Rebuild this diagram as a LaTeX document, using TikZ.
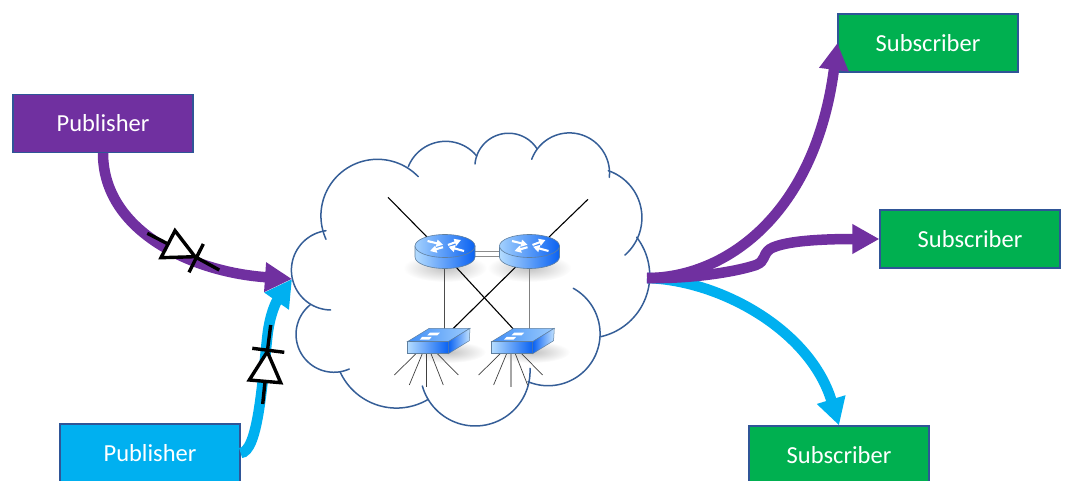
\documentclass[tikz,border=0pt]{standalone}
\usepackage{fontspec}
\setmainfont{Carlito}
\usetikzlibrary{arrows.meta}
\definecolor{ppurple}{HTML}{7030A0}
\definecolor{pblue}{HTML}{00B0F0}
\definecolor{pgreen}{HTML}{00B050}
\definecolor{edgeblue}{HTML}{2F5597}
\definecolor{cloudblue}{HTML}{355E97}
\definecolor{icolight}{HTML}{B4DCFF}
\definecolor{icodeep}{HTML}{0A62F2}
\definecolor{icomid}{HTML}{3F8DF6}
\definecolor{icoedge}{HTML}{5F7F9F}
\tikzset{
  msgbox/.style={draw=edgeblue,line width=1.2pt,minimum width=180pt,minimum height=58pt,inner sep=0pt,text=white,font=\fontsize{24.5}{28}\selectfont},
  flowpurple/.style={draw=ppurple,line width=10.5pt,-{Triangle[length=27pt,width=28pt]}},
  flowblue/.style={draw=pblue,line width=10.5pt,-{Triangle[length=27pt,width=28pt]}},
  cloudarc/.style={draw=cloudblue,line width=1.5pt,line cap=round},
  diode/.style={draw=black,line width=3.4pt,line join=miter},
  uplink/.style={draw=black,line width=1.1pt},
  fanline/.style={draw=black!75,line width=.7pt},
  softshadow/.style={inner color=black!24,outer color=white,draw=none},
  iconarrow/.style={white,line width=2.1pt,-{Triangle[length=6.5pt,width=7pt]}},
}
% circular lobe through three points (start, middle, end)
\newcommand{\lobe}[6]{%
  \pgfmathsetmacro{\bx}{(#3-#1)/100}\pgfmathsetmacro{\by}{(#4-#2)/100}%
  \pgfmathsetmacro{\cx}{(#5-#1)/100}\pgfmathsetmacro{\cy}{(#6-#2)/100}%
  \pgfmathsetmacro{\dd}{2*(\bx*\cy-\by*\cx)}%
  \pgfmathsetmacro{\bb}{\bx*\bx+\by*\by}\pgfmathsetmacro{\ccc}{\cx*\cx+\cy*\cy}%
  \pgfmathsetmacro{\ux}{(\cy*\bb-\by*\ccc)/\dd}\pgfmathsetmacro{\uy}{(\bx*\ccc-\cx*\bb)/\dd}%
  \pgfmathsetmacro{\rr}{100*sqrt(\ux*\ux+\uy*\uy)}%
  \pgfmathsetmacro{\ox}{#1+100*\ux}\pgfmathsetmacro{\oy}{#2+100*\uy}%
  \pgfmathsetmacro{\aa}{atan2(#2-\oy,#1-\ox)}\pgfmathsetmacro{\ae}{atan2(#6-\oy,#5-\ox)}%
  \pgfmathsetmacro{\af}{\dd>0 ? (\ae<\aa ? \ae+360 : \ae) : (\ae>\aa ? \ae-360 : \ae)}%
  \draw[cloudarc] plot[smooth,domain=\aa:\af,samples=48,variable=\t] ({\ox+\rr*cos(\t)},{\oy+\rr*sin(\t)});}
\newcommand{\routericon}[1]{%
  \begin{scope}[shift={(#1,246)}]
    \path[left color=icolight,right color=icodeep,draw=icoedge,line width=.6pt]
      (-30,0) -- (-30,11) .. controls (-30,17.3) and (-16.6,22.5) .. (0,22.5)
      .. controls (16.6,22.5) and (30,17.3) .. (30,11) -- (30,0) -- cycle;
    \path[left color=icolight!85!icomid,right color=icodeep,draw=icoedge,line width=.6pt]
      (0,0) ellipse [x radius=30,y radius=11.5];
    \draw[iconarrow] (-17.5,-5) -- (-2,-1.2);
    \draw[iconarrow] (-2,1.2) -- (-15,5);
    \draw[iconarrow] (3,-1) -- (16,-6);
    \draw[iconarrow] (19,5) -- (3.5,0.8);
  \end{scope}}
\newcommand{\switchicon}[2]{%
  \begin{scope}[shift={(#1,341.7)}]
    \draw[fanline] (8.7,12) -- (-13,33.3);
    \draw[fanline] (15,12) -- (2,43.3);
    \draw[#2] (19.4,12) -- (19.4,45.6);
    \draw[fanline] (23.7,12) -- (36,43.3);
    \draw[fanline] (30,12) -- (51,33.3);
    \path[left color=icomid,right color=icolight!80!icomid,draw=icoedge,line width=.5pt]
      (0,0) -- (22,-13.4) -- (62.7,-13.4) -- (41,0) -- cycle;
    \path[left color=icolight,right color=icodeep,draw=icoedge,line width=.5pt]
      (0,0) rectangle (41,12);
    \path[left color=icodeep,right color=icolight!80!white,draw=icoedge,line width=.5pt]
      (41,0) -- (62.7,-13.4) -- (62,-1) -- (41,12) -- cycle;
    \fill[white] (20,-6.4) -- (30,-6.4) -- (32.5,-9) -- (22.5,-9) -- cycle;
    \fill[white] (22,-2.2) -- (12.5,-2.2) -- (15,-4.8) -- (24.5,-4.8) -- cycle;
  \end{scope}}
\begin{document}
\begin{tikzpicture}[x=1pt,y=-1pt]
\useasboundingbox (0,0) rectangle (1065,481);
% boxes
\node[msgbox,fill=ppurple] (pub1) at (103,123.5) {Publisher};
\node[msgbox,fill=pblue]   (pub2) at (150,453) {Publisher};
\node[msgbox,fill=pgreen]  (sub1) at (928,43)  {Subscriber};
\node[msgbox,fill=pgreen]  (sub2) at (970,239) {Subscriber};
\node[msgbox,fill=pgreen]  (sub3) at (839,455) {Subscriber};
\coordinate (cloudin) at (292,279);
\coordinate (cloudout) at (647,278);
% cloud
\lobe{326}{239.3}{376.7}{159.3}{418.3}{176.7}
\lobe{408.3}{166.7}{442}{141.5}{476.7}{156}
\lobe{475}{164}{506.7}{133.3}{536.7}{148.3}
\lobe{531.7}{159.3}{566.7}{133}{609.3}{177.3}
\lobe{608.3}{170.7}{641.7}{213}{625}{255}
\lobe{636.7}{237.3}{649}{285}{600.7}{336.7}
\lobe{573.3}{288.3}{600}{336.7}{528}{381.7}
\lobe{530}{368.3}{476.7}{426}{422.3}{386}
\lobe{428.3}{399.3}{385}{407}{340}{371.7}
\lobe{349.3}{369}{303.3}{356.7}{310}{305}
\lobe{330.7}{310}{291.7}{275}{326}{230.7}
% shadows of the icons
\shade[softshadow] (445,268) ellipse [x radius=42,y radius=14];
\shade[softshadow] (529.5,268) ellipse [x radius=42,y radius=14];
\shade[softshadow] (448,352) ellipse [x radius=38,y radius=11];
\shade[softshadow] (532,352) ellipse [x radius=38,y radius=11];
% network links
\coordinate (r1up) at (388,197.3);
\coordinate (r1top) at (427,237);
\coordinate (r2up) at (588,199.3);
\coordinate (r2top) at (549,237);
\coordinate (r1a) at (444.3,266);
\coordinate (s1a) at (444.3,330);
\coordinate (r2a) at (529,266);
\coordinate (s2a) at (529,330);
\coordinate (r1b) at (455,266);
\coordinate (s2b) at (513.3,329);
\coordinate (r2b) at (516.7,266);
\coordinate (s1b) at (452.7,329);
\draw[uplink] (r1up) -- (r1top);
\draw[uplink] (r2up) -- (r2top);
\draw[draw=black!70,line width=1pt] (r1a) -- (s1a);
\draw[draw=black!50,line width=1pt] (r2a) -- (s2a);
\draw[uplink] (r1b) -- (s2b);
\draw[uplink] (r2b) -- (s1b);
\coordinate (r1p) at (470,251); \coordinate (r2p) at (505,251);
\coordinate (r1q) at (470,256); \coordinate (r2q) at (505,256);
\draw[draw=black!45,line width=1pt] (r1p) -- (r2p);
\draw[draw=black!45,line width=1pt] (r1q) -- (r2q);
\routericon{445}
\routericon{529.5}
\switchicon{407.3}{fanline}
\switchicon{491.6}{draw=black!35,line width=1.2pt}
% flows
\draw[flowblue] (pub2.east) .. controls (258,452) and (262,385) .. (267.5,335) .. controls (270,314) and (276,302) .. (cloudin);
\draw[flowpurple] (pub1.south) .. controls (103,230) and (190,272) .. (cloudin);
\draw[flowblue] (cloudout) .. controls (720,280) and (810,330) .. (sub3.north);
\draw[flowpurple] (cloudout) .. controls (725,278) and (815,215) .. (sub1.west);
\draw[flowpurple] (cloudout) .. controls (690,279) and (735,272) .. (756,265) .. controls (766,261) and (762,255) .. (770,249) .. controls (785,240) and (830,239) .. (sub2.west);
% diodes
\coordinate (d1a) at (147.3,233.3); \coordinate (d1b) at (166.7,243.3);
\coordinate (d1c) at (195,256.7);   \coordinate (d1d) at (219.3,270);
\coordinate (d1e) at (203.3,244);   \coordinate (d1f) at (189,272.3);
\coordinate (d1g) at (175,230.7);   \coordinate (d1h) at (161,257.7);
\draw[diode] (d1a) -- (d1b);
\draw[diode] (d1c) -- (d1d);
\draw[diode] (d1e) -- (d1f);
\draw[diode,fill=white] (d1g) -- (d1h) -- (d1c) -- cycle;
\coordinate (d2a) at (270.7,325);   \coordinate (d2b) at (267.3,351.7);
\coordinate (d2c) at (265,382);     \coordinate (d2d) at (262.7,404);
\coordinate (d2e) at (252.3,348.3); \coordinate (d2f) at (284.3,352.3);
\coordinate (d2g) at (249.3,380);   \coordinate (d2h) at (280.7,382.7);
\draw[diode] (d2a) -- (d2b);
\draw[diode] (d2c) -- (d2d);
\draw[diode] (d2e) -- (d2f);
\draw[diode,fill=white] (d2b) -- (d2g) -- (d2h) -- cycle;
\end{tikzpicture}
\end{document}
